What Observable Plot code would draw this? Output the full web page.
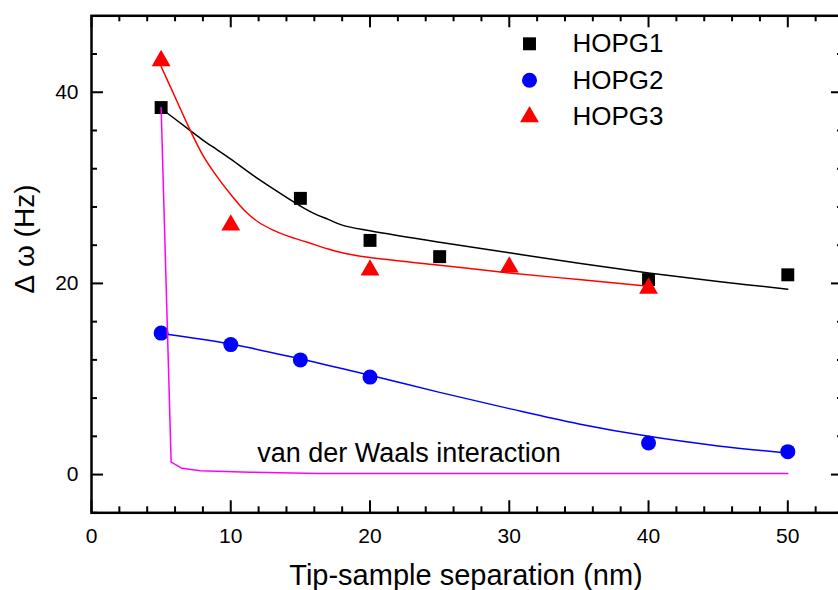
<!DOCTYPE html>
<html><head><meta charset="utf-8">
<script src="https://cdn.jsdelivr.net/npm/d3@7"></script>
<script src="https://cdn.jsdelivr.net/npm/@observablehq/plot@0.6"></script>
<style>html,body{margin:0;padding:0;overflow:hidden;background:#fff} svg{max-width:none !important}</style>
</head><body><div id="chart"></div>
<script>
// ---- data ----
const hopg1X = [5, 15, 20, 25, 40, 50];
const hopg1Y = [38.4, 28.9, 24.5, 22.8, 20.4, 20.9];
const hopg2X = [5, 10, 15, 20, 40, 50];
const hopg2Y = [14.8, 13.6, 12.0, 10.2, 3.3, 2.4];
const hopg3X = [5, 10, 20, 30, 40];
const hopg3Y = [43.3, 26.1, 21.4, 21.7, 19.5];

const fit1X = [5, 6, 7, 8, 9, 10, 12, 14, 15, 16, 17, 18, 20, 25, 30, 35, 40, 45, 50];
const fit1Y = [38.3, 37.2, 36.1, 35.0, 34.0, 33.0, 30.9, 29.0, 28.1, 27.3, 26.7, 26.1, 25.5, 24.3, 23.2, 22.1, 21.1, 20.2, 19.4];
const fit2X = [5, 10, 15, 20, 25, 30, 35, 40, 45, 50];
const fit2Y = [14.75, 13.65, 12.1, 10.4, 8.6, 6.9, 5.3, 4.0, 3.0, 2.25];
const fit3X = [5, 6, 7, 8, 9, 10, 11, 12, 13, 14, 15.5, 17, 18, 20, 25, 30, 35, 40];
const fit3Y = [42.7, 39.5, 36.3, 33.4, 31.2, 29.3, 27.6, 26.4, 25.6, 25.0, 24.3, 23.6, 23.2, 22.7, 21.9, 21.1, 20.4, 19.7];
const vdwX = [5, 5.72, 6.5, 7.8, 11.4, 16.2, 25, 50];
const vdwY = [38.4, 1.3, 0.65, 0.4, 0.25, 0.12, 0.1, 0.1];

const seriesNames = ["HOPG1", "HOPG2", "HOPG3"];
const seriesSymbols = ["square", "circle", "triangle"];
const seriesColors = ["#000000", "#0000ff", "#ff0000"];

const xMajor = [0, 10, 20, 30, 40, 50];
const xMinor = [2, 4, 6, 8, 12, 14, 16, 18, 22, 24, 26, 28, 32, 34, 36, 38, 42, 44, 46, 48, 52];
const yMajor = [0, 20, 40];
const yMinor = [-4, 4, 8, 12, 16, 24, 28, 32, 36, 44];

const annX = [11.9], annY = [2.23], annText = ["van der Waals interaction"];
const xTitle = "Tip-sample separation (nm)";
const yTitle = "Δ\u00a0ω\u00a0(Hz)";

// ---- layout ----
const W = 843, H = 590, mL = 91, mR = 0, mT = 15.3, mB = 77.7;
const innerW = W - mL - mR, innerH = H - mT - mB;
const zip = (xs, ys) => xs.map((x, i) => ({x, y: ys[i]}));
const font = "'Liberation Sans', Arial, sans-serif";

const legendMarks = seriesNames.flatMap((name, i) => [
  Plot.dot([name], {frameAnchor: "top-left", dx: 438, dy: 28 + i * 36.5,
    symbol: () => seriesSymbols[i], fill: seriesColors[i], r: [7.3, 7.5, 7][i]}),
  Plot.text([name], {frameAnchor: "top-left", dx: 481, dy: 28 + i * 36.5, text: d => d,
    textAnchor: "start", lineAnchor: "middle", fontSize: 26, fill: "black"})
]);

const chart = Plot.plot({
  width: W, height: H,
  marginLeft: mL, marginRight: mR, marginTop: mT, marginBottom: mB,
  style: {fontFamily: font, background: "white", color: "black", maxWidth: "none"},
  x: {domain: [0, 54]},
  y: {domain: [-4, 48]},
  symbol: {type: "identity"},
  marks: [
    // tick marks (inward) on all four sides
    Plot.ruleX(xMajor, {x: d => d, insetTop: innerH - 12, strokeWidth: 2}),
    Plot.ruleX(xMajor, {x: d => d, insetBottom: innerH - 12, strokeWidth: 2}),
    Plot.ruleX(xMinor, {x: d => d, insetTop: innerH - 6, strokeWidth: 2}),
    Plot.ruleX(xMinor, {x: d => d, insetBottom: innerH - 6, strokeWidth: 2}),
    Plot.ruleY(yMajor, {y: d => d, insetRight: innerW - 12, strokeWidth: 2}),
    Plot.ruleY(yMajor, {y: d => d, insetLeft: innerW - 12, strokeWidth: 2}),
    Plot.ruleY(yMinor, {y: d => d, insetRight: innerW - 6, strokeWidth: 2}),
    Plot.ruleY(yMinor, {y: d => d, insetLeft: innerW - 6, strokeWidth: 2}),
    Plot.frame({strokeWidth: 2.5, stroke: "black"}),
    Plot.axisX(xMajor, {tickSize: 0, tickPadding: 15, fontSize: 21, label: null}),
    Plot.axisY(yMajor, {tickSize: 0, tickPadding: 13, fontSize: 21, label: null}),
    // data points
    Plot.dot(zip(hopg1X, hopg1Y), {x: "x", y: "y", symbol: () => "square", r: 7.3, fill: seriesColors[0]}),
    Plot.dot(zip(hopg2X, hopg2Y), {x: "x", y: "y", symbol: () => "circle", r: 7.5, fill: seriesColors[1]}),
    Plot.dot(zip(hopg3X, hopg3Y), {x: "x", y: "y", symbol: () => "triangle", r: 7, fill: seriesColors[2]}),
    // fitted curves
    Plot.line(zip(fit1X, fit1Y), {x: "x", y: "y", stroke: seriesColors[0], strokeWidth: 1.5, curve: "catmull-rom"}),
    Plot.line(zip(fit2X, fit2Y), {x: "x", y: "y", stroke: seriesColors[1], strokeWidth: 1.5, curve: "catmull-rom"}),
    Plot.line(zip(fit3X, fit3Y), {x: "x", y: "y", stroke: seriesColors[2], strokeWidth: 1.5, curve: "catmull-rom"}),
    Plot.line(zip(vdwX, vdwY), {x: "x", y: "y", stroke: "#ff00ff", strokeWidth: 1.5}),
    // annotation
    Plot.text(annText.map((t, i) => ({x: annX[i], y: annY[i], t})), {x: "x", y: "y", text: "t",
      textAnchor: "start", lineAnchor: "middle", fontSize: 27, fill: "black"}),
    // axis titles
    Plot.text([xTitle], {frameAnchor: "bottom", dx: -1.5, dy: 63, text: d => d, fontSize: 29,
      textAnchor: "middle", lineAnchor: "middle", fill: "black"}),
    Plot.text([yTitle], {frameAnchor: "left", dx: -66, dy: -25.3, text: d => d, rotate: -90, fontSize: 28,
      textAnchor: "middle", lineAnchor: "middle", fill: "black"}),
    ...legendMarks
  ]
});
document.getElementById("chart").appendChild(chart);
</script>
</body></html>
